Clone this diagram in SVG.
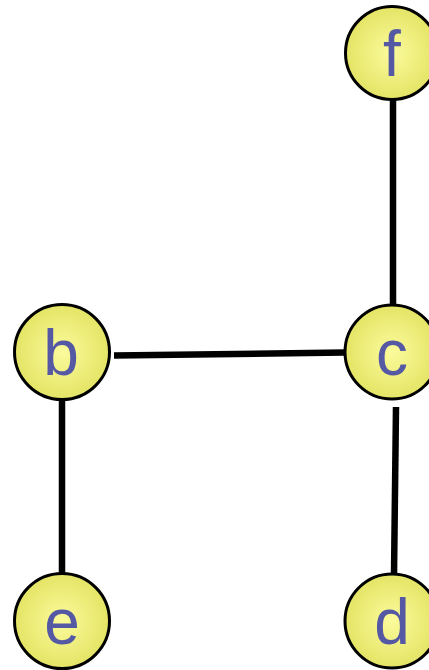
<svg xmlns="http://www.w3.org/2000/svg" width="429" height="670" viewBox="0 0 429 670">
<defs>
<radialGradient id="g" cx="0.5" cy="0.5" r="0.5">
<stop offset="0" stop-color="#fbfb9c"/>
<stop offset="1" stop-color="#e4e466"/>
</radialGradient>
<style>
.n{fill:url(#g);stroke:#000;stroke-width:3}
.t{font-family:"Liberation Sans",Arial,sans-serif;font-size:64px;fill:#5558a2;text-anchor:middle}
.e{stroke:#000;stroke-width:6.5;fill:none}
</style>
</defs>
<rect width="429" height="670" fill="#fff"/>
<g id="edges">
<line class="e" x1="393" y1="100" x2="393" y2="306"/>
<line class="e" x1="114" y1="355.5" x2="345" y2="352.5"/>
<line class="e" x1="62" y1="400" x2="62" y2="575"/>
<line class="e" x1="396" y1="407" x2="394" y2="575"/>
</g>
<g id="f"><circle class="n" cx="392" cy="53" r="46.5"/><text class="t" x="392" y="76">f</text></g>
<g id="c"><circle class="n" cx="392" cy="352" r="47"/><text class="t" x="392" y="375">c</text></g>
<g id="b"><circle class="n" cx="62" cy="352" r="47.5"/><text class="t" x="61" y="375">b</text></g>
<g id="e"><circle class="n" cx="62" cy="621" r="47.5"/><text class="t" x="62" y="644">e</text></g>
<g id="d"><circle class="n" cx="392" cy="621" r="47"/><text class="t" x="392" y="644">d</text></g>
</svg>
